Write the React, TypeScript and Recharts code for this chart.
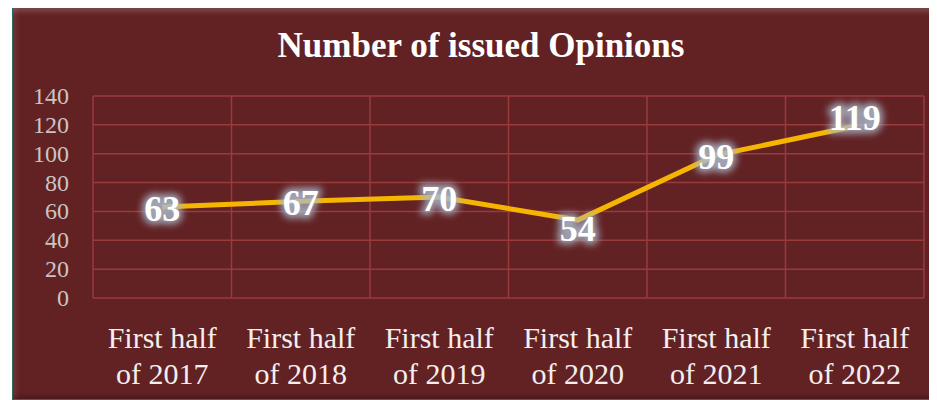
import React from "react";
import { LineChart, Line, XAxis, YAxis, CartesianGrid, ReferenceLine, LabelList } from "recharts";

const categories = [
  "First half of 2017",
  "First half of 2018",
  "First half of 2019",
  "First half of 2020",
  "First half of 2021",
  "First half of 2022",
];
const opinions = [63, 67, 70, 54, 99, 119];
const yTicks = [0, 20, 40, 60, 80, 100, 120, 140];
const title = "Number of issued Opinions";

const data = categories.map((c, i) => ({ idx: i, name: c, value: opinions[i] }));
const boundaries = [...categories.map((_, i) => i - 0.5), categories.length - 0.5];

const FONT = "'Liberation Serif', 'DejaVu Serif', serif";
const GRID = "#9a3a3c";
const BG = "#622224";

const XTick = (props: any) => {
  const { x, y, payload } = props;
  const label: string = categories[payload.value] ?? "";
  const parts = label.split(" ");
  const l1 = parts.slice(0, 2).join(" ");
  const l2 = parts.slice(2).join(" ");
  return (
    <g>
      <text x={x} y={y + 48} textAnchor="middle" fill="#f4eeee" fontFamily={FONT} fontSize={30}>
        {l1}
      </text>
      <text x={x} y={y + 84} textAnchor="middle" fill="#f4eeee" fontFamily={FONT} fontSize={30}>
        {l2}
      </text>
    </g>
  );
};

const YTick = (props: any) => {
  const { x, y, payload } = props;
  return (
    <text
      x={x}
      y={y + 8}
      textAnchor="end"
      fill="#cbc4c4"
      fontFamily={FONT}
      fontSize={24}
      style={{ fontFamily: FONT }}
    >
      {payload.value}
    </text>
  );
};

const GlowLabel = (props: any) => {
  const { x, y, value, index } = props;
  const id = `glow-${index}`;
  const dy = value === 54 ? 9 : value === 119 ? -8 : 2;
  return (
    <g>
      <defs>
        <filter id={id} x="-50%" y="-50%" width="200%" height="200%">
          <feGaussianBlur stdDeviation="3.5" />
        </filter>
      </defs>
      <text
        x={x}
        y={y + dy}
        textAnchor="middle"
        dominantBaseline="central"
        fontFamily={FONT}
        fontWeight="bold"
        fontSize={36}
        fill="#aab9cc"
        stroke="#aab9cc"
        strokeWidth={7}
        filter={`url(#${id})`}
        opacity={0.85}
      >
        {value}
      </text>
      <text
        x={x}
        y={y + dy}
        textAnchor="middle"
        dominantBaseline="central"
        fontFamily={FONT}
        fontWeight="bold"
        fontSize={36}
        fill="#ffffff"
      >
        {value}
      </text>
    </g>
  );
};

export default function App() {
  return (
    <div
      style={{
        marginLeft: 4,
        marginTop: -1,
        width: 925,
        height: 393,
        boxSizing: "border-box",
        border: "1px solid #2e6b5e",
        background: BG,
        position: "relative",
        boxShadow:
          "inset 0 9px 5px -5px rgba(255,255,255,0.16), inset 9px 0 5px -5px rgba(255,255,255,0.08), inset 0 -7px 5px -4px rgba(0,0,0,0.25)",
      }}
    >
      <div
        style={{
          position: "absolute",
          left: 0,
          top: 18,
          width: 936,
          textAlign: "center",
          color: "#ffffff",
          fontFamily: FONT,
          fontWeight: "bold",
          fontSize: 35,
          lineHeight: "40px",
        }}
      >
        {title}
      </div>
      <LineChart
        width={923}
        height={391}
        data={data}
        margin={{ top: 88, right: 12, left: 0, bottom: 0 }}
      >
        <CartesianGrid vertical={false} stroke={GRID} strokeWidth={1.5} />
        {boundaries.map((b) => (
          <ReferenceLine key={b} x={b} stroke={GRID} strokeWidth={1.5} />
        ))}
        <XAxis
          type="number"
          dataKey="idx"
          domain={[-0.5, categories.length - 0.5]}
          ticks={categories.map((_, i) => i)}
          axisLine={false}
          tickLine={false}
          tickSize={0}
          height={101}
          tick={<XTick />}
          interval={0}
        />
        <YAxis
          domain={[0, 140]}
          ticks={yTicks}
          axisLine={false}
          tickLine={false}
          tickSize={0}
          tickMargin={24}
          width={80}
          tick={<YTick />}
          interval={0}
        />
        <Line
          type="linear"
          dataKey="value"
          stroke="#f6b600"
          strokeWidth={5}
          dot={false}
          activeDot={false}
          isAnimationActive={false}
        >
          <LabelList dataKey="value" content={<GlowLabel />} />
        </Line>
      </LineChart>
    </div>
  );
}
